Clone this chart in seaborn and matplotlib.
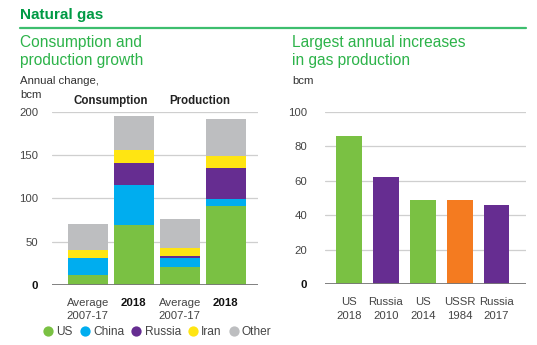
import matplotlib
matplotlib.use("Agg")
import matplotlib.pyplot as plt
import seaborn as sns
import pandas as pd
import numpy as np
from matplotlib.lines import Line2D

# ---- data ----
left_categories = ["Average\n2007-17 C", "2018 C", "Average\n2007-17 P", "2018 P"]
left_ticklabels = ["Average\n2007-17", "2018", "Average\n2007-17", "2018"]
us_vals = [11.5, 69, 21, 91]
china_vals = [19.7, 46, 10.5, 8]
russia_vals = [0, 25.5, 2.5, 36]
iran_vals = [9.2, 15, 9.2, 14]
other_vals = [30, 39, 33, 42.5]
series_names = ["US", "China", "Russia", "Iran", "Other"]

right_labels = ["US\n2018", "Russia\n2010", "US\n2014", "USSR\n1984", "Russia\n2017"]
right_values = [86, 62.3, 48.8, 48.8, 46]
right_kind = ["US", "Russia", "US", "USSR", "Russia"]

# ---- styles ----
colors = {"US": "#7AC143", "China": "#00ADEF", "Russia": "#662D91",
          "Iran": "#FFE512", "Other": "#BDBEC0", "USSR": "#F47B20"}
FONT = ["Liberation Sans", "DejaVu Sans"]
sns.set_theme(style="white")
plt.rcParams["font.family"] = FONT
TXT = "#333333"
FS = 8.2

W, H = 537, 345
fig = plt.figure(figsize=(W / 100, H / 100), dpi=100)

def ax_rect(x0, y0, x1, y1):
    return [x0 / W, 1 - y1 / H, (x1 - x0) / W, (y1 - y0) / H]

def ftext(x, y, s, **kw):
    fig.text(x / W, 1 - y / H, s, **kw)

# headers
ftext(20, 15, "Natural gas", fontsize=11, fontweight="bold", color="#009A44", va="center")
fig.add_artist(Line2D([20 / W, 526 / W], [1 - 28 / H, 1 - 28 / H], color="#3DBE6E", lw=1.6))
ftext(20, 42, "Consumption and", fontsize=11.2, color="#2DB34A", va="center")
ftext(20, 61, "production growth", fontsize=11.2, color="#2DB34A", va="center")
ftext(292, 42, "Largest annual increases", fontsize=11.2, color="#2DB34A", va="center")
ftext(292, 61, "in gas production", fontsize=11.2, color="#2DB34A", va="center")
ftext(20, 81, "Annual change,", fontsize=FS, color=TXT, va="center")
ftext(20, 95, "bcm", fontsize=FS, color=TXT, va="center")
ftext(292, 81, "bcm", fontsize=FS, color=TXT, va="center")
ftext(111, 101, "Consumption", fontsize=8.3, color="#222222", va="center", ha="center", fontweight="bold")
ftext(200, 101, "Production", fontsize=8.3, color="#222222", va="center", ha="center", fontweight="bold")

# ---- left chart ----
axL = fig.add_axes(ax_rect(52, 111.7, 258, 285))
df = pd.DataFrame({"cat": left_categories, "US": us_vals, "China": china_vals,
                   "Russia": russia_vals, "Iran": iran_vals, "Other": other_vals})
cum = df[series_names].cumsum(axis=1)
for name in reversed(series_names):
    sns.barplot(x=df["cat"], y=cum[name], color=colors[name], ax=axL,
                width=0.87, saturation=1, linewidth=0, order=left_categories)
axL.set_ylim(0, 200)
axL.set_xlim(-0.78, 3.70)
axL.set_yticks([0, 50, 100, 150, 200])
axL.set_yticklabels(["0", "50", "100", "150", "200"])
axL.set_xticks(range(4))
axL.set_xticklabels(left_ticklabels)

# ---- right chart ----
axR = fig.add_axes(ax_rect(325, 111.7, 526, 284.3))
dfr = pd.DataFrame({"label": right_labels, "value": right_values, "kind": right_kind})
sns.barplot(data=dfr, x="label", y="value", hue="kind", palette=colors, ax=axR,
            width=0.7, saturation=1, linewidth=0, legend=False, dodge=False)
axR.set_ylim(0, 100)
axR.set_xlim(-0.65, 4.8)
axR.set_yticks([0, 20, 40, 60, 80, 100])

for ax, pad in [(axL, 10), (axR, 13)]:
    ax.set_xlabel("")
    ax.set_ylabel("")
    for s in ax.spines.values():
        s.set_visible(False)
    ax.yaxis.grid(True, color="#CFCFCF", lw=0.9)
    ax.set_axisbelow(True)
    ax.axhline(0, color="#777777", lw=1.3, zorder=5)
    ax.tick_params(axis="y", length=0, pad=pad, labelsize=FS, labelcolor="#444444")
    ax.tick_params(axis="x", length=0, pad=9.5, labelsize=FS, labelcolor="#444444")
    ax.get_yticklabels()[0].set_fontweight("bold")
    ax.get_yticklabels()[0].set_color("#111111")
    for t in ax.get_xticklabels():
        t.set_linespacing(1.4)
        t.set_va("top")

for i, t in enumerate(axL.get_xticklabels()):
    if left_ticklabels[i] == "2018":
        t.set_fontweight("bold")
        t.set_color("#111111")

# legend
handles = [Line2D([], [], marker="o", ls="", markersize=7.4, markerfacecolor=colors[n],
                  markeredgecolor="none", label=n) for n in series_names]
fig.legend(handles=handles, loc="center left", bbox_to_anchor=(41 / W, 1 - 332 / H),
           ncol=5, frameon=False, fontsize=8.6, handletextpad=0.1, columnspacing=0.4,
           handlelength=1.2, borderaxespad=0, borderpad=0, labelcolor="#444444")

fig.savefig("out.png", dpi=100)
